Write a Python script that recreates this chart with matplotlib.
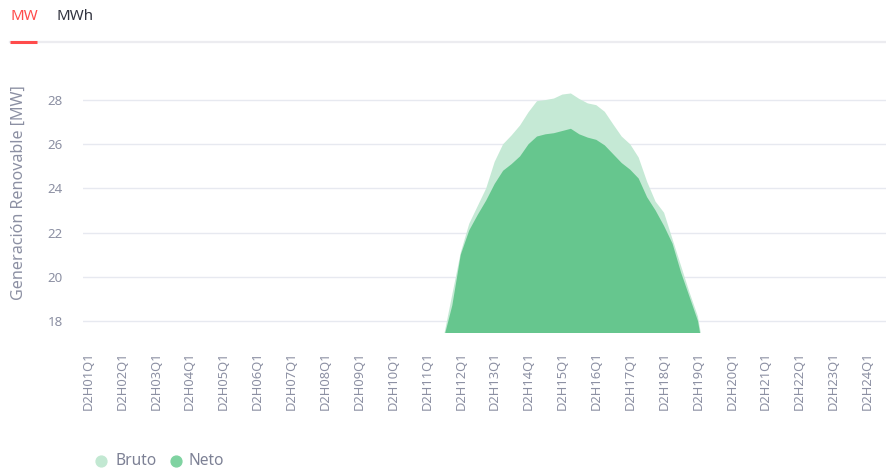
import matplotlib
matplotlib.use("Agg")
import matplotlib.pyplot as plt
from matplotlib.lines import Line2D

# ---- data ----
hours = list(range(1, 25))
quarters = [1, 2, 3, 4]
categories = [f"D2H{h:02d}Q{q}" for h in hours for q in quarters]
tick_labels = [f"D2H{h:02d}Q1" for h in hours]

bruto = [0.0] * 40 + [
    6.5, 12.5, 17.3, 19.2, 21.1, 22.4, 23.2, 24.0, 25.2, 26.0,
    26.4, 26.85, 27.45, 27.95, 28.0, 28.07, 28.25, 28.3, 28.05, 27.85,
    27.77, 27.47, 26.9, 26.35, 26.0, 25.4, 24.3, 23.4, 22.9, 21.7,
    20.5, 19.3, 18.2, 16.0, 11.0, 5.0, 1.5,
] + [0.0] * 19

neto = [0.0] * 40 + [
    6.2, 12.2, 17.2, 18.7, 21.0, 22.1, 22.8, 23.45, 24.2, 24.8,
    25.1, 25.45, 26.0, 26.35, 26.45, 26.5, 26.6, 26.7, 26.45, 26.3,
    26.2, 25.95, 25.55, 25.15, 24.85, 24.45, 23.6, 23.0, 22.3, 21.5,
    20.2, 19.1, 18.0, 15.8, 10.7, 4.8, 1.3,
] + [0.0] * 19

y_ticks = [18, 20, 22, 24, 26, 28]

# ---- style ----
FONT = ["Noto Sans", "DejaVu Sans"]
plt.rcParams["font.family"] = FONT
TICK_C = "#8c90a3"
BRUTO_C = "#c5e9d5"
NETO_C = "#66c68e"
GRID_C = "#e7e9f0"

W, H = 886, 471
fig = plt.figure(figsize=(W / 100, H / 100), dpi=100)

def fx(px):
    return px / W

def fy(py):
    return 1 - py / H

ax_left, ax_right, ax_top, ax_bot = 83, 886, 78, 333.3
ax = fig.add_axes([fx(ax_left), fy(ax_bot), (ax_right - ax_left) / W, (ax_bot - ax_top) / H])

x = list(range(len(categories)))
ax.fill_between(x, 0, bruto, color=BRUTO_C, linewidth=0, zorder=2)
ax.fill_between(x, 0, neto, color=NETO_C, linewidth=0, zorder=3)

ax.set_xlim(-0.6, 94.2)
ax.set_ylim(17.44, 29.0)

ax.set_yticks(y_ticks)
ax.set_yticklabels([str(v) for v in y_ticks], color=TICK_C, fontsize=9.6)
ax.set_xticks([i * 4 for i in range(24)])
ax.set_xticklabels(tick_labels, rotation=90, color=TICK_C, fontsize=9.3, va="top", ha="center")
ax.tick_params(axis="both", length=0)
ax.tick_params(axis="y", pad=14.4)
ax.tick_params(axis="x", pad=13)

for v in y_ticks:
    ax.axhline(v, color=GRID_C, linewidth=1.0, zorder=1)

for s in ax.spines.values():
    s.set_visible(False)

fig.text(fx(19), fy(193), "Generación Renovable [MW]", rotation=90, color=TICK_C,
         fontsize=11.6, ha="center", va="center")

# ---- tabs ----
fig.text(fx(10), fy(16), "MW", color="#ff4b4b", fontsize=10.8, ha="left", va="center")
fig.text(fx(57), fy(16), "MWh", color="#31333f", fontsize=10.8, ha="left", va="center")
fig.add_artist(Line2D([fx(10), fx(886)], [fy(41.5), fy(41.5)], color="#ececf0", linewidth=1.6))
fig.add_artist(Line2D([fx(10), fx(37)], [fy(41.5), fy(41.5)], color="#ff4b4b", linewidth=2.2,
                      solid_capstyle="butt"))

# ---- legend ----
fig.add_artist(Line2D([fx(101)], [fy(461)], marker="o", markersize=7.8, color="#c2e8d2",
                      linestyle="none"))
fig.text(fx(115), fy(461), "Bruto", color="#7d8195", fontsize=11.2, ha="left", va="center")
fig.add_artist(Line2D([fx(176)], [fy(461)], marker="o", markersize=7.8, color="#7fd3a1",
                      linestyle="none"))
fig.text(fx(189), fy(461), "Neto", color="#7d8195", fontsize=11.2, ha="left", va="center")

fig.savefig("out.png", dpi=100)
